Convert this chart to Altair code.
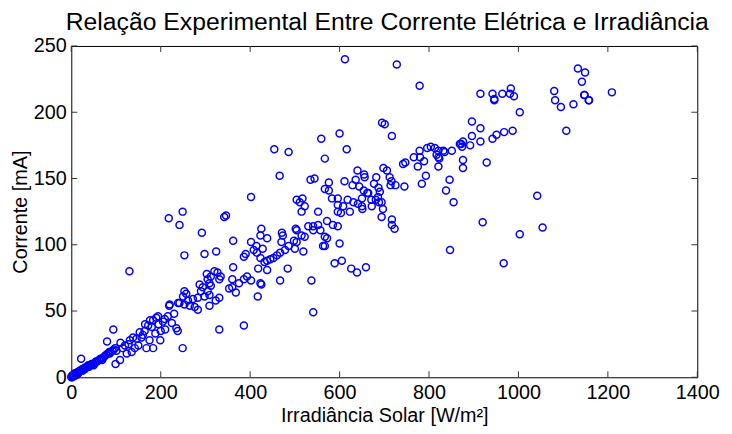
import altair as alt
import pandas as pd

# ---- data (Irradiância [W/m²], Corrente [mA]) ----
irr_low = [0, 1, 2, 3, 4, 5, 6, 7, 8, 9, 10, 11, 12, 13, 14, 15, 16, 18, 19, 20,
           22, 24, 25, 27, 29, 30, 32, 34, 36, 38, 40, 42, 45, 48, 50, 53, 55, 58,
           62, 65, 68, 72, 75, 78, 82, 85, 88, 92, 95, 98, 22, 80, 94, 50, 69, 86, 99]
cor_low = [0, 1, 0, 1, 2, 1, 2, 1, 3, 2, 2, 3, 3, 2, 4, 3, 4, 4, 5, 5,
           5, 6, 5, 6, 7, 6, 7, 8, 8, 9, 8, 9, 10, 10, 10, 11, 12, 12,
           13, 14, 14, 15, 16, 17, 18, 19, 19, 20, 21, 22, 14, 27, 36, 9, 13, 18, 10]

irr_band = [101, 109, 120, 124, 131, 135, 142, 146, 150, 153, 157, 164, 168, 172,
            175, 176, 183, 183, 188, 190, 194, 199, 205, 209, 210, 216, 219, 220,
            225, 230, 235, 238, 239, 249, 130, 110, 115, 128, 138, 160, 165, 180,
            195, 200, 218]
cor_band = [20, 13, 24, 18, 28, 19, 22, 29, 24, 34, 30, 35, 22, 39,
            28, 43, 43, 22, 33, 45, 46, 28, 42, 44, 36, 46, 54, 55,
            41, 48, 37, 35, 56, 22, 80, 26, 22, 25, 30, 32, 40, 38,
            40, 35, 120]

irr_mid = [253, 298, 324, 402, 414, 428, 408, 415, 423, 390, 386, 362, 438, 418,
           484, 467, 537, 362, 327, 320, 303, 305, 309, 312, 331, 334, 312, 360,
           353, 360, 368, 375, 386, 393, 402, 423, 425, 541, 287, 294, 290, 305,
           309, 298, 283, 272, 261, 253, 257, 250, 242, 253, 265, 276, 283, 309,
           323, 331, 242, 292, 425, 423, 438, 471, 473, 470, 502, 515, 522, 498,
           500, 519, 486, 478, 467, 460, 452, 445, 438, 432, 530, 541, 552, 541,
           557, 567, 563, 417, 331, 386, 249, 342, 346, 402]
cor_mid = [92, 93, 95, 102, 99, 97, 96, 94, 90, 93, 91, 103, 81, 82,
           82, 73, 73, 83, 79, 80, 78, 74, 71, 69, 74, 76, 76, 74,
           67, 68, 64, 71, 74, 76, 73, 71, 70, 49, 70, 68, 65, 65,
           62, 61, 60, 59, 58, 65, 63, 61, 56, 55, 54, 53, 51, 54,
           58, 60, 115, 109, 112, 107, 105, 109, 107, 102, 112, 107, 106, 103,
           97, 95, 99, 96, 94, 92, 90, 89, 88, 87, 114, 114, 115, 111,
           111, 106, 99, 61, 36, 39, 125, 121, 122, 136]

irr_centre = [515, 522, 517, 504, 511, 552, 583, 596, 618, 596, 608, 631, 650, 650,
              651, 672, 671, 681, 688, 694, 697, 694, 596, 603, 623, 717, 717, 723,
              572, 585, 596, 504, 504, 572, 567, 600, 589, 605, 626, 639, 659, 838,
              855, 847, 641, 662, 687, 690, 686]
cor_centre = [125, 129, 135, 134, 132, 125, 135, 135, 134, 130, 129, 132, 135, 129,
              127, 129, 134, 134, 132, 132, 127, 121, 125, 124, 125, 119, 115, 112,
              118, 115, 114, 111, 102, 105, 99, 101, 86, 88, 82, 79, 83, 141,
              132, 96, 131, 139, 143, 140, 136]

irr_upper = [612, 728, 779, 695, 701, 717, 600, 559, 616, 567, 454, 486, 466, 535,
             544, 576, 567, 576, 611, 640, 655, 656, 629, 636, 644, 682, 698, 706,
             712, 716, 714, 725, 745, 742, 747, 766, 779, 780, 775, 789, 793, 784,
             796, 804, 813, 821, 832, 835, 821, 823, 851, 821, 846, 654, 677, 664]
cor_upper = [240, 236, 220, 192, 191, 182, 184, 180, 172, 165, 172, 170, 152, 149,
             150, 147, 142, 141, 148, 156, 153, 151, 145, 149, 144, 151, 158, 156,
             151, 148, 145, 145, 144, 161, 162, 166, 171, 166, 159, 163, 152, 146,
             173, 174, 173, 171, 171, 170, 166, 165, 171, 159, 149, 141, 146, 139]

irr_right = [915, 942, 964, 981, 990, 946, 1080, 1082, 1095, 1123, 1148, 1158, 1003,
             1107, 896, 915, 896, 915, 942, 951, 968, 987, 876, 872, 869, 874, 892,
             817, 876, 876, 929, 1042, 920, 1054, 1003, 967, 1133, 1149, 1142, 1147,
             1157, 1209, 983, 946]
cor_right = [214, 214, 214, 214, 212, 210, 216, 209, 204, 206, 213, 209, 200,
             186, 193, 188, 182, 178, 180, 183, 185, 186, 178, 176, 176, 174, 175,
             168, 164, 158, 162, 137, 117, 113, 108, 86, 233, 230, 223, 213,
             209, 215, 218, 209]

x_ticks = [0, 200, 400, 600, 800, 1000, 1200, 1400]
y_ticks = [0, 50, 100, 150, 200, 250]

df = pd.DataFrame({
    "irr": irr_low + irr_band + irr_mid + irr_centre + irr_upper + irr_right,
    "cor": cor_low + cor_band + cor_mid + cor_centre + cor_upper + cor_right,
})

W, H = 633, 335
FONT = "Liberation Sans"
xscale = alt.Scale(domain=[0, 1400], nice=False, zero=False)
yscale = alt.Scale(domain=[0, 250], nice=False, zero=False)

xaxis = alt.Axis(values=x_ticks, format="d", title="Irradiância Solar [W/m²]",
                 titlePadding=4)
yaxis = alt.Axis(values=y_ticks, format="d", title="Corrente [mA]", titlePadding=3)

points = alt.Chart(df).mark_point(
    shape="circle", filled=False, color="#0000ff", size=50, strokeWidth=1.5,
    opacity=1, clip=False
).encode(
    x=alt.X("irr:Q", scale=xscale, axis=xaxis),
    y=alt.Y("cor:Q", scale=yscale, axis=yaxis),
)

xt = pd.DataFrame({"t": x_ticks})
yt = pd.DataFrame({"t": y_ticks})
tick_color = "#333333"
x_bottom = alt.Chart(xt).mark_rule(color=tick_color, strokeWidth=1).encode(
    x=alt.X("t:Q", scale=xscale, axis=xaxis), y=alt.value(H), y2=alt.value(H - 6))
x_top = alt.Chart(xt).mark_rule(color=tick_color, strokeWidth=1).encode(
    x=alt.X("t:Q", scale=xscale, axis=xaxis), y=alt.value(0), y2=alt.value(6))
y_left = alt.Chart(yt).mark_rule(color=tick_color, strokeWidth=1).encode(
    y=alt.Y("t:Q", scale=yscale, axis=yaxis), x=alt.value(0), x2=alt.value(6))
y_right = alt.Chart(yt).mark_rule(color=tick_color, strokeWidth=1).encode(
    y=alt.Y("t:Q", scale=yscale, axis=yaxis), x=alt.value(W), x2=alt.value(W - 6))

chart = alt.layer(points, x_bottom, x_top, y_left, y_right).properties(
    width=W, height=H,
    autosize=alt.AutoSizeParams(type="none"),
    padding={"left": 64, "top": 36, "right": 27, "bottom": 60},
    title=alt.Title("Relação Experimental Entre Corrente Elétrica e Irradiância",
                    font=FONT, fontSize=25, fontWeight="normal", color="black",
                    anchor="middle", offset=11, dy=10, dx=3),
).configure_view(
    stroke="black", strokeWidth=1
).configure_axis(
    labelFont=FONT, labelFontSize=20, labelColor="black",
    titleFont=FONT, titleFontSize=20, titleFontWeight="normal", titleColor="black",
    ticks=False, tickSize=0, domain=False, grid=False,
    labelPadding=5, labelFlush=False, labelOverlap=False,
)

chart.save("out.html", embed_options={"renderer": "svg", "actions": False})
